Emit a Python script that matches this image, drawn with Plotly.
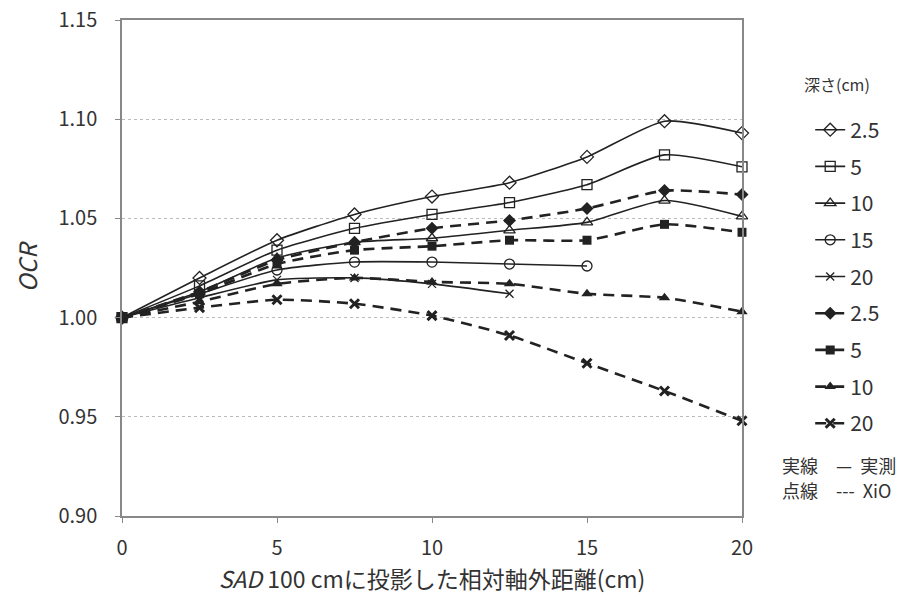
import plotly.graph_objects as go

x_pos = [0, 2.5, 5, 7.5, 10, 12.5, 15, 17.5, 20]

meas_25 = [1.000, 1.020, 1.039, 1.052, 1.061, 1.068, 1.081, 1.099, 1.093]
meas_5 = [1.000, 1.016, 1.034, 1.045, 1.052, 1.058, 1.067, 1.082, 1.076]
meas_10 = [1.000, 1.013, 1.030, 1.038, 1.040, 1.044, 1.048, 1.059, 1.051]
meas_15 = [1.000, 1.012, 1.024, 1.028, 1.028, 1.027, 1.026]
meas_20 = [1.000, 1.010, 1.019, 1.020, 1.017, 1.012]

xio_25 = [1.000, 1.013, 1.029, 1.038, 1.045, 1.049, 1.055, 1.064, 1.062]
xio_5 = [1.000, 1.012, 1.027, 1.034, 1.036, 1.039, 1.039, 1.047, 1.043]
xio_10 = [1.000, 1.008, 1.017, 1.020, 1.018, 1.017, 1.012, 1.010, 1.003]
xio_20 = [1.000, 1.005, 1.009, 1.007, 1.001, 0.991, 0.977, 0.963, 0.948]

x_ticks = [0, 5, 10, 15, 20]
y_ticks = [0.90, 0.95, 1.00, 1.05, 1.10, 1.15]

FONT = "Noto Sans CJK JP"
INK = "#222222"
TXT = "#333333"

series = [
    ("2.5", meas_25, "diamond-open", "solid", 1.6, 10, 1.3),
    ("5", meas_5, "square-open", "solid", 1.6, 10, 1.3),
    ("10", meas_10, "triangle-up-open", "solid", 1.6, 10, 1.3),
    ("15", meas_15, "circle-open", "solid", 1.6, 10, 1.3),
    ("20", meas_20, "x-thin-open", "solid", 1.6, 8, 1.3),
    ("2.5", xio_25, "diamond", "11px,7px", 2.6, 10, 0),
    ("5", xio_5, "square", "11px,7px", 2.6, 9, 0),
    ("10", xio_10, "triangle-up", "11px,7px", 2.6, 10, 0),
    ("20", xio_20, "x-thin", "11px,7px", 2.6, 9, 3),
]

fig = go.Figure()
for i, (name, ys, sym, dash, lw, ms, mlw) in enumerate(series):
    if sym.endswith("-open"):
        marker = dict(symbol=sym, size=ms, color=INK, line=dict(color=INK, width=mlw))
    elif sym == "x-thin":
        marker = dict(symbol=sym, size=ms, color=INK, line=dict(color=INK, width=3))
    else:
        marker = dict(symbol=sym, size=ms, color=INK, line=dict(color=INK, width=0))
    fig.add_trace(go.Scatter(
        x=x_pos[:len(ys)], y=ys, name=name, mode="lines+markers",
        line=dict(color=INK, width=lw, dash=dash, shape="spline", smoothing=0.6),
        marker=marker, cliponaxis=False, legendgroup="g%d" % i,
    ))

fig.update_layout(
    width=903, height=595,
    margin=dict(l=122, r=161, t=20, b=79, autoexpand=False),
    plot_bgcolor="white", paper_bgcolor="white",
    font=dict(family=FONT, size=16, color=TXT),
    showlegend=True,
    legend=dict(x=1.11, xanchor="left", y=0.8195, yanchor="top",
                tracegroupgap=6.4, font=dict(size=21, color=TXT),
                bgcolor="rgba(0,0,0,0)", itemwidth=30),
    xaxis=dict(range=[0, 20], tickvals=x_ticks, ticks="outside", ticklen=5,
               tickcolor="#888888", showline=True, linecolor="#888888", linewidth=1.5,
               mirror=True, showgrid=False, zeroline=False, automargin=False,
               ticklabelstandoff=8,
               tickfont=dict(size=20, color=TXT),
               title=dict(text="<i>SAD</i> 100 cmに投影した相対軸外距離(cm)",
                          font=dict(size=23, color=TXT), standoff=12)),
    yaxis=dict(range=[0.90, 1.15], tickvals=y_ticks, tickformat=".2f", ticks="outside",
               ticklen=5, tickcolor="#888888", showline=True, linecolor="#888888",
               linewidth=1.5, mirror=True, showgrid=True, gridcolor="#bbbbbb",
               griddash="dot", gridwidth=1, zeroline=False, automargin=False,
               ticklabelstandoff=14,
               tickfont=dict(size=20, color=TXT),
               title=dict(text="<i>OCR</i>", font=dict(size=24, color=TXT), standoff=14)),
    annotations=[
        dict(text="深さ(cm)", xref="paper", yref="paper", x=1.097, y=0.871,
             xanchor="left", yanchor="middle", showarrow=False,
             font=dict(size=16, color=TXT)),
        dict(text="実線　—&nbsp;&nbsp;実測", xref="paper", yref="paper", x=1.061, y=0.103,
             xanchor="left", yanchor="middle", showarrow=False,
             font=dict(size=18, color=TXT)),
        dict(text="点線　---&nbsp;&nbsp;XiO", xref="paper", yref="paper", x=1.061, y=0.052,
             xanchor="left", yanchor="middle", showarrow=False,
             font=dict(size=18, color=TXT)),
    ],
)

fig.write_html("out.html", config={"displayModeBar": False},
               post_script="document.body.style.margin='0';")
